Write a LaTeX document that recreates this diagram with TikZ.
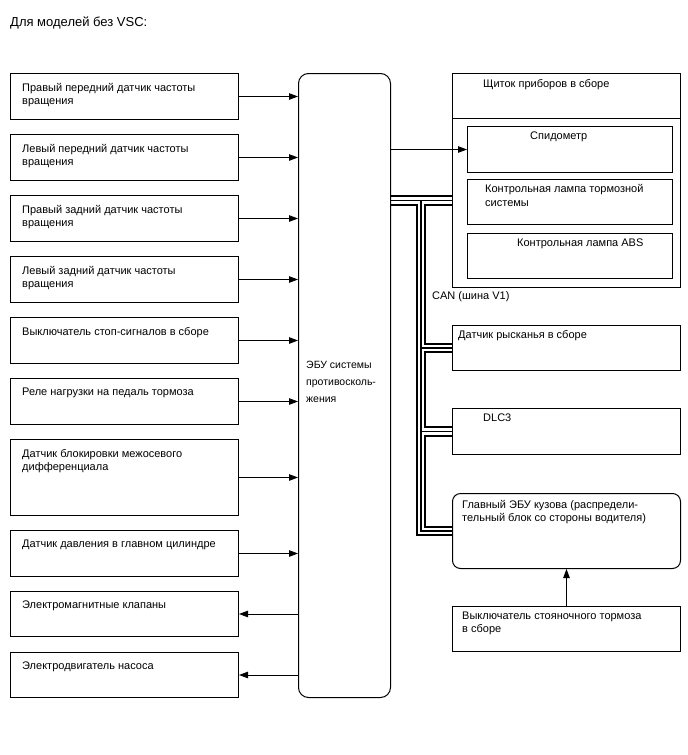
\documentclass[tikz,border=0pt]{standalone}
\usepackage{fontspec}
\setmainfont{Liberation Sans}
\usetikzlibrary{arrows.meta,positioning,backgrounds}

\tikzset{
  blocco/.style={draw, line width=1pt, anchor=north west, inner sep=0pt,
    minimum width=228pt, minimum height=46pt},
  testo/.style={anchor=north west, inner sep=0pt, align=left,
    font=\fontsize{11}{13}\selectfont},
  freccia/.style={line width=0.9pt, -{Triangle[length=9pt,width=6.5pt]}},
  cavo/.style={line width=10.5pt,
    postaction={draw=white, line width=6.5pt},
    postaction={draw=black, line width=1.8pt}}
}

\begin{document}
\begin{tikzpicture}[x=1pt, y=-1pt]
  \useasboundingbox (0,0) rectangle (688,755);

  % Titolo
  \node[testo, font=\fontsize{13}{15}\selectfont] (titolo) at (10,17) {Для моделей без VSC:};

  % Sensori a sinistra
  \node[blocco] (s1) at (10,73) {};
  \node[blocco] (s2) at (10,134) {};
  \node[blocco] (s3) at (10,195) {};
  \node[blocco] (s4) at (10,256) {};
  \node[blocco] (s5) at (10,317) {};
  \node[blocco] (s6) at (10,378) {};
  \node[blocco, minimum height=76pt] (s7) at (10,439) {};
  \node[blocco] (s8) at (10,530) {};
  \node[blocco, minimum height=45pt] (s9) at (10,591) {};
  \node[blocco, minimum height=45pt] (s10) at (10,652) {};

  \node[testo] (t1) at ([shift={(12,10)}]s1.north west) {Правый передний датчик частоты\\вращения};
  \node[testo] (t2) at ([shift={(12,10)}]s2.north west) {Левый передний датчик частоты\\вращения};
  \node[testo] (t3) at ([shift={(12,10)}]s3.north west) {Правый задний датчик частоты\\вращения};
  \node[testo] (t4) at ([shift={(12,10)}]s4.north west) {Левый задний датчик частоты\\вращения};
  \node[testo] (t5) at ([shift={(12,10)}]s5.north west) {Выключатель стоп-сигналов в сборе};
  \node[testo] (t6) at ([shift={(12,10)}]s6.north west) {Реле нагрузки на педаль тормоза};
  \node[testo] (t7) at ([shift={(12,10)}]s7.north west) {Датчик блокировки межосевого\\дифференциала};
  \node[testo] (t8) at ([shift={(12,10)}]s8.north west) {Датчик давления в главном цилиндре};
  \node[testo] (t9) at ([shift={(12,10)}]s9.north west) {Электромагнитные клапаны};
  \node[testo] (t10) at ([shift={(12,10)}]s10.north west) {Электродвигатель насоса};

  % ECU
  \node[blocco, minimum width=92pt, minimum height=624pt, rounded corners=10pt] (ecu) at (298,73) {};
  \node[testo, font=\fontsize{10.5}{17}\selectfont] (tecu) at (306,361) {ЭБУ системы\\противосколь-\\жения};

  % Quadro strumenti
  \node[blocco, minimum height=214pt] (quadro) at (452,73) {};
  \draw[line width=1pt] ([yshift=-45pt]quadro.north west) -- ([yshift=-45pt]quadro.north east);
  \node[blocco, minimum width=205pt] (tachi) at (467,126) {};
  \node[blocco, minimum width=205pt, minimum height=45pt] (spia1) at (467,179) {};
  \node[blocco, minimum width=205pt, minimum height=45pt] (spia2) at (467,233) {};
  \node[testo] (tq) at (483,79) {Щиток приборов в сборе};
  \node[testo] (tt) at (530,132) {Спидометр};
  \node[testo, font=\fontsize{11}{14}\selectfont] (ts1) at (485,184) {Контрольная лампа тормозной\\системы};
  \node[testo] (ts2) at (517,239) {Контрольная лампа ABS};

  % Rete CAN
  \node[blocco, minimum height=45pt] (yaw) at (452,325) {};
  \node[blocco] (dlc) at (452,408) {};
  \node[blocco, minimum height=75pt, rounded corners=8pt] (corpo) at (452,493) {};
  \node[blocco, minimum height=45pt] (freno) at (452,606) {};
  \node[testo] (tcan) at (432,291) {CAN (шина V1)};
  \node[testo] (tyaw) at (458,330) {Датчик рысканья в сборе};
  \node[testo] (tdlc) at (483,414) {DLC3};
  \node[testo] (tcorpo) at (462,500) {Главный ЭБУ кузова (распредели-\\тельный блок со стороны водителя)};
  \node[testo] (tfreno) at (462,612) {Выключатель стояночного тормоза\\в сборе};

  % Archi
  \draw[freccia] (s1.east) -- (s1.east -| ecu.west);
  \draw[freccia] (s2.east) -- (s2.east -| ecu.west);
  \draw[freccia] (s3.east) -- (s3.east -| ecu.west);
  \draw[freccia] (s4.east) -- (s4.east -| ecu.west);
  \draw[freccia] (s5.east) -- (s5.east -| ecu.west);
  \draw[freccia] (s6.east) -- (s6.east -| ecu.west);
  \draw[freccia] (s7.east) -- (s7.east -| ecu.west);
  \draw[freccia] (s8.east) -- (s8.east -| ecu.west);
  \draw[freccia] (s9.east -| ecu.west) -- (s9.east);
  \draw[freccia] (s10.east -| ecu.west) -- (s10.east);
  \draw[freccia] (tachi.west -| ecu.east) -- (tachi.west);
  \draw[freccia] (freno.north) -- (corpo.south);

  % Bus
  \coordinate (nodo) at (421,200.5);
  \begin{pgfonlayer}{background}
    \draw[cavo] (ecu.east |- nodo) -- (quadro.west |- nodo)
      (nodo) -- (nodo |- corpo.west) -- (corpo.west)
      (nodo |- yaw.west) -- (yaw.west)
      (nodo |- dlc.west) -- (dlc.west);
  \end{pgfonlayer}
\end{tikzpicture}
\end{document}
